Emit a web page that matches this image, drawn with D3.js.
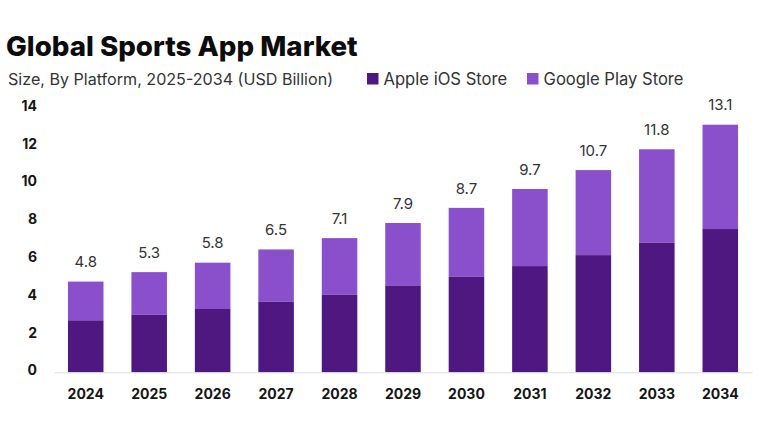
<!DOCTYPE html>
<html>
<head>
<meta charset="utf-8">
<script src="https://cdn.jsdelivr.net/npm/d3@7"></script>
<style>
	html, body { margin: 0; padding: 0; background: #fff; }
	svg { display: block; font-family: Inter, "Noto Sans", sans-serif; }
</style>
</head>
<body>
<div id="chart1"></div>
<script>
var years = ["2024", "2025", "2026", "2027", "2028", "2029", "2030", "2031", "2032", "2033", "2034"];
var iosValues = [2.75, 3.05, 3.35, 3.74, 4.11, 4.57, 5.06, 5.62, 6.2, 6.86, 7.58];
var totals = [4.8, 5.3, 5.8, 6.5, 7.1, 7.9, 8.7, 9.7, 10.7, 11.8, 13.1];
var yTicks = [0, 2, 4, 6, 8, 10, 12, 14];
var seriesNames = ["Apple iOS Store", "Google Play Store"];
var seriesColors = ["#4e1880", "#8a50cc"];

var width = 768, height = 432;
var margin = {top: 107.7, right: 16, bottom: 59.7, left: 54};

var svg = d3.select("#chart1")
	.append("svg")
	.attr("width", width)
	.attr("height", height);

var x = d3.scaleBand()
	.domain(years)
	.range([margin.left, width - margin.right])
	.paddingInner(0.44)
	.paddingOuter(0.22);

var y = d3.scaleLinear()
	.domain([0, 14])
	.range([height - margin.bottom, margin.top]);

// iOS on the bottom, Google Play is whatever is left up to the total
var rows = years.map(function (d, i) {
	return {year: d, ios: iosValues[i], total: totals[i]};
});

svg.append("g")
	.selectAll("rect")
	.data(rows)
	.enter().append("rect")
	.attr("x", function (d) { return x(d.year); })
	.attr("width", x.bandwidth())
	.attr("y", function (d) { return y(d.total); })
	.attr("height", function (d) { return y(d.ios) - y(d.total); })
	.style("fill", seriesColors[1]);

svg.append("g")
	.selectAll("rect")
	.data(rows)
	.enter().append("rect")
	.attr("x", function (d) { return x(d.year); })
	.attr("width", x.bandwidth())
	.attr("y", function (d) { return y(d.ios); })
	.attr("height", function (d) { return y(0) - y(d.ios); })
	.style("fill", seriesColors[0]);

// total labels
svg.append("g")
	.selectAll("text")
	.data(rows)
	.enter().append("text")
	.attr("x", function (d) { return x(d.year) + x.bandwidth() / 2; })
	.attr("y", function (d) { return y(d.total) - 19.5; })
	.attr("dy", "0.35em")
	.attr("text-anchor", "middle")
	.attr("font-size", "15px")
	.attr("fill", "#333")
	.text(function (d) { return d.total.toFixed(1); });

var xAxis = svg.append("g")
	.attr("transform", "translate(0," + y(0) + ")")
	.call(d3.axisBottom(x).tickSize(0).tickPadding(17));
xAxis.select(".domain").attr("stroke", "#dcdce4");
xAxis.selectAll("text")
	.attr("font-family", "Inter, sans-serif")
	.attr("font-size", "14px")
	.attr("font-weight", "700")
	.attr("fill", "#151515");

var yAxis = svg.append("g")
	.attr("transform", "translate(" + margin.left + ",0)")
	.call(d3.axisLeft(y).tickValues(yTicks).tickSize(0).tickPadding(17));
yAxis.select(".domain").remove();
yAxis.selectAll("text")
	.attr("font-family", "Inter, sans-serif")
	.attr("font-size", "14px")
	.attr("font-weight", "700")
	.attr("dy", "0.18em")
	.attr("fill", "#151515");

// title block
svg.append("text")
	.attr("x", 6)
	.attr("y", 56)
	.attr("font-size", "27.7px")
	.attr("font-weight", "800")
	.attr("fill", "#0c0c0c")
	.text("Global Sports App Market");

svg.append("text")
	.attr("x", 8)
	.attr("y", 85)
	.attr("font-size", "16.1px")
	.attr("fill", "#333")
	.text("Size, By Platform, 2025-2034 (USD Billion)");

// legend
var legendX = [367, 527];
var legend = svg.append("g")
	.selectAll("g")
	.data(seriesNames)
	.enter().append("g")
	.attr("transform", function (d, i) { return "translate(" + legendX[i] + ",78.5)"; });

legend.append("rect")
	.attr("y", -5.5)
	.attr("width", 11.5)
	.attr("height", 11.5)
	.style("fill", function (d, i) { return seriesColors[i]; });

legend.append("text")
	.attr("x", 16.5)
	.attr("y", 6)
	.attr("font-size", "16.6px")
	.attr("fill", "#333")
	.text(function (d) { return d; });
</script>
</body>
</html>
